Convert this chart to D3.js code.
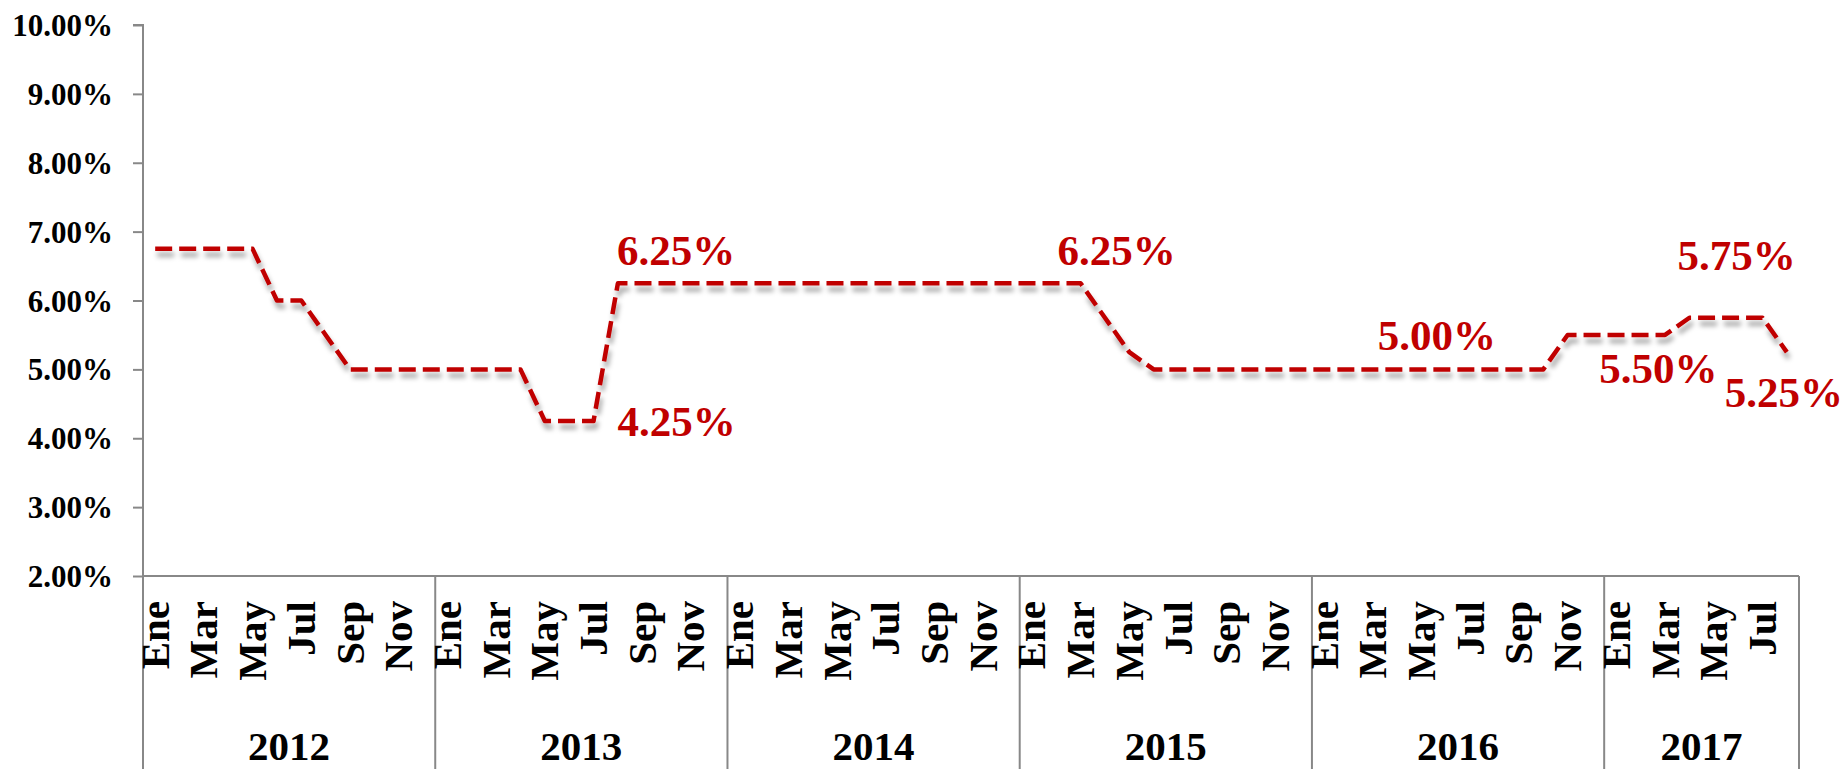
<!DOCTYPE html>
<html>
<head>
<meta charset="utf-8">
<script src="https://cdn.jsdelivr.net/npm/d3@7"></script>
<style>
  html, body { margin: 0; padding: 0; background: #fff; }
  svg { display: block; }
  text { font-family: "Times New Roman", "Liberation Serif", serif; font-weight: bold; }
</style>
</head>
<body>
<svg id="chart" width="1842" height="769"></svg>
<script>
// ---------------- DATA ----------------
const years = ["2012", "2013", "2014", "2015", "2016", "2017"];
const monthsPerYear = [12, 12, 12, 12, 12, 8];
const monthNames = ["Ene", "Feb", "Mar", "Abr", "May", "Jun", "Jul", "Ago", "Sep", "Oct", "Nov", "Dic"];
// Monthly policy rate (%), Ene-2012 .. Ago-2017
const rate2012 = [6.75, 6.75, 6.75, 6.75, 6.75, 6.00, 6.00, 5.50, 5.00, 5.00, 5.00, 5.00];
const rate2013 = [5.00, 5.00, 5.00, 5.00, 4.25, 4.25, 4.25, 6.25, 6.25, 6.25, 6.25, 6.25];
const rate2014 = [6.25, 6.25, 6.25, 6.25, 6.25, 6.25, 6.25, 6.25, 6.25, 6.25, 6.25, 6.25];
const rate2015 = [6.25, 6.25, 6.25, 5.75, 5.25, 5.00, 5.00, 5.00, 5.00, 5.00, 5.00, 5.00];
const rate2016 = [5.00, 5.00, 5.00, 5.00, 5.00, 5.00, 5.00, 5.00, 5.00, 5.00, 5.50, 5.50];
const rate2017 = [5.50, 5.50, 5.50, 5.75, 5.75, 5.75, 5.75, 5.25];
const yTicks = [2, 3, 4, 5, 6, 7, 8, 9, 10];
// Annotated points (index into the monthly series)
const labelPoints = [19, 18, 38, 50, 63, 60, 67];

// ---------------- BUILD ----------------
(function () {
const rates = [].concat(rate2012, rate2013, rate2014, rate2015, rate2016, rate2017);
const cats = [];
years.forEach((yr, yi) => {
  for (let m = 0; m < monthsPerYear[yi]; m++) cats.push({ year: yr, month: monthNames[m], m: m, idx: cats.length });
});

const svg = d3.select("#chart");
const pLeft = 143, pRight = 1799, pTop = 25, pBottom = 576, svgH = 769;

const x = d3.scaleBand().domain(cats.map(d => d.idx)).range([pLeft, pRight]).paddingInner(0).paddingOuter(0);
const y = d3.scaleLinear().domain([2, 10]).range([pBottom, pTop]);
const cx = i => x(i) + x.bandwidth() / 2;

const axisColor = "#888888";
const red = "#C00000";

// shadow filter
const defs = svg.append("defs");
const f = defs.append("filter").attr("id", "shadow").attr("x", "-5%").attr("y", "-20%").attr("width", "110%").attr("height", "140%");
f.append("feDropShadow").attr("dx", 2).attr("dy", 6).attr("stdDeviation", 2.5)
  .attr("flood-color", "#000").attr("flood-opacity", 0.35);

// Y axis
const yAxis = d3.axisLeft(y).tickValues(yTicks).tickSize(10).tickPadding(20)
  .tickFormat(d => d.toFixed(2) + "%");
const gy = svg.append("g").attr("transform", `translate(${pLeft},0)`).call(yAxis);
gy.select(".domain").attr("stroke", axisColor).attr("stroke-width", 2).attr("d", `M-10,${pTop}H0V${svgH}`);
gy.selectAll(".tick line").attr("stroke", axisColor).attr("stroke-width", 2);
gy.selectAll(".tick text").attr("font-size", 31).attr("fill", "#000")
  .attr("font-family", '"Times New Roman", "Liberation Serif", serif').attr("font-weight", "bold")
  .attr("dy", "0.34em");

// X axis baseline
svg.append("line").attr("x1", pLeft).attr("x2", pRight).attr("y1", pBottom).attr("y2", pBottom)
  .attr("stroke", axisColor).attr("stroke-width", 2);

// Year separators
const yearStarts = [];
let acc = 0;
years.forEach((yr, yi) => { yearStarts.push(acc); acc += monthsPerYear[yi]; });
const boundaries = yearStarts.slice(1).map(i => x(i)).concat([pRight]);
svg.selectAll("line.sep").data(boundaries).enter().append("line").attr("class", "sep")
  .attr("x1", d => d).attr("x2", d => d).attr("y1", pBottom).attr("y2", svgH)
  .attr("stroke", axisColor).attr("stroke-width", 2);

// Month labels (every other month)
svg.selectAll("text.month").data(cats.filter(d => d.m % 2 === 0)).enter().append("text").attr("class", "month")
  .attr("transform", d => `translate(${cx(d.idx)},${pBottom + 25}) rotate(-90)`)
  .attr("text-anchor", "end").attr("dy", "0.33em")
  .attr("font-size", 41).attr("fill", "#000")
  .text(d => d.month);

// Year labels
svg.selectAll("text.year").data(years).enter().append("text").attr("class", "year")
  .attr("x", (d, i) => {
    const s = x(yearStarts[i]);
    const e = i < years.length - 1 ? x(yearStarts[i + 1]) : pRight;
    return (s + e) / 2;
  })
  .attr("y", 760).attr("text-anchor", "middle").attr("font-size", 41).attr("fill", "#000")
  .text(d => d);

// Line
const line = d3.line().x((d, i) => cx(i)).y(d => y(d));
svg.append("path").datum(rates).attr("d", line)
  .attr("fill", "none").attr("stroke", red).attr("stroke-width", 4.5)
  .attr("stroke-dasharray", "17,7").attr("stroke-linejoin", "round")
  .attr("filter", "url(#shadow)");

// Data labels
const labelOffsets = [[-1, -18], [24, 15], [-23, -18], [5, -19], [-12, -48], [-17, 48], [-62, 55]];
svg.selectAll("text.dlab").data(labelPoints).enter().append("text").attr("class", "dlab")
  .attr("x", (d, k) => cx(d) + labelOffsets[k][0])
  .attr("y", (d, k) => y(rates[d]) + labelOffsets[k][1])
  .attr("text-anchor", "start").attr("font-size", 43).attr("fill", red)
  .text(d => rates[d].toFixed(2) + "%");
})();
</script>
</body>
</html>
